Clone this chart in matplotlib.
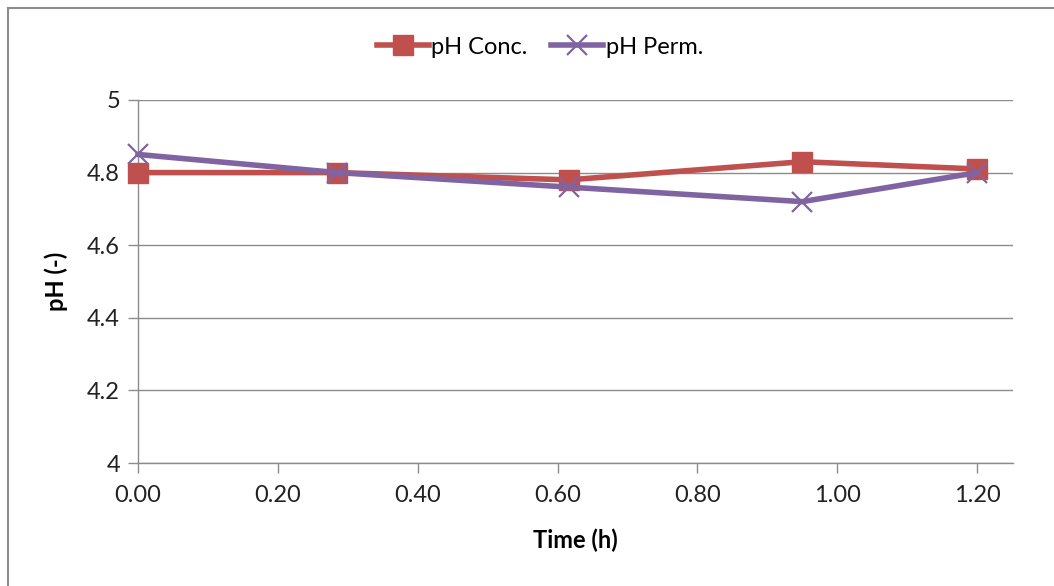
import matplotlib
matplotlib.use("Agg")
import matplotlib.pyplot as plt
from matplotlib.lines import Line2D

# Sampling times (h) and measured pH
time_h = [0.0, 0.285, 0.616, 0.95, 1.20]
ph_conc = [4.80, 4.80, 4.78, 4.83, 4.81]
ph_perm = [4.85, 4.80, 4.76, 4.72, 4.80]
x_ticks = [0.0, 0.2, 0.4, 0.6, 0.8, 1.0, 1.2]
y_ticks = [4.0, 4.2, 4.4, 4.6, 4.8, 5.0]
y_tick_labels = ["4", "4.2", "4.4", "4.6", "4.8", "5"]

plt.rcParams["font.family"] = ["Lato", "DejaVu Sans"]

W, H = 1054, 586
fig = plt.figure(figsize=(W / 100, H / 100), dpi=100)
ax = fig.add_axes([138 / W, 1 - 463 / H, (1013 - 138) / W, (463 - 100) / H])

conc_color = "#C0504D"
perm_color = "#8064A2"
grid_color = "#8C8C8C"
fs = 17

ax.plot(time_h, ph_conc, color=conc_color, lw=4, marker="s", ms=14,
        mec=conc_color, mfc=conc_color, label="pH Conc.", zorder=3, clip_on=False)
ax.plot(time_h, ph_perm, color=perm_color, lw=4, marker="x", ms=15,
        mew=1.6, label="pH Perm.", zorder=4, clip_on=False)

ax.set_xlim(0, 1.2514)
ax.set_ylim(4, 5)
ax.set_xticks(x_ticks)
ax.set_xticklabels([f"{v:.2f}" for v in x_ticks])
ax.set_yticks(y_ticks)
ax.set_yticklabels(y_tick_labels)
ax.tick_params(axis="both", labelsize=fs, colors="#222222", length=7,
               width=1, direction="out", pad=6)
ax.tick_params(axis="x", color=grid_color, pad=9)
ax.tick_params(axis="y", color=grid_color)
ax.yaxis.grid(True, color=grid_color, lw=1)
ax.set_axisbelow(True)
for side in ("top", "right"):
    ax.spines[side].set_visible(False)
for side in ("left", "bottom"):
    ax.spines[side].set_color(grid_color)
    ax.spines[side].set_linewidth(1)

ax.set_xlabel("Time (h)", fontsize=fs, fontweight="bold", labelpad=16)
ax.set_ylabel("pH (-)", fontsize=fs, fontweight="bold", labelpad=14)

leg = fig.legend(loc="center", bbox_to_anchor=(540 / W, 1 - 47 / H), ncol=2,
                 frameon=False, fontsize=fs, handlelength=2.2,
                 handletextpad=0.1, columnspacing=1.0)

# Chart area frame
fig.add_artist(Line2D([8 / W, 8 / W], [0, 1 - 8 / H], color="#8C8C8C", lw=1.5,
                      transform=fig.transFigure))
fig.add_artist(Line2D([8 / W, 1], [1 - 8 / H, 1 - 8 / H], color="#8C8C8C", lw=1.5,
                      transform=fig.transFigure))

fig.savefig("out.png", dpi=100)
